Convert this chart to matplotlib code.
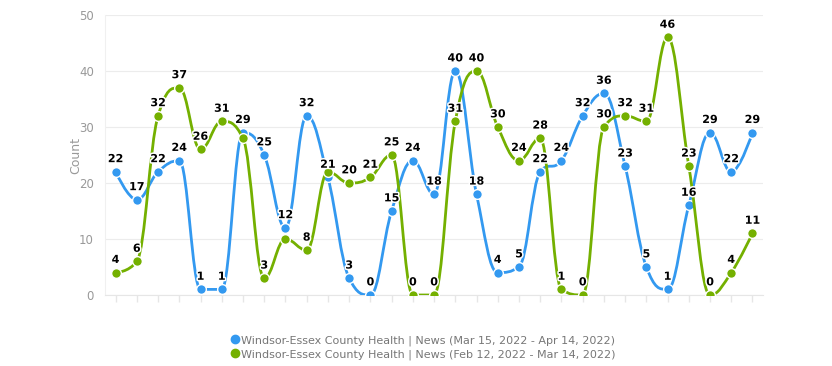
import matplotlib
matplotlib.use("Agg")
import matplotlib.pyplot as plt
import matplotlib.patheffects as pe
from matplotlib.path import Path
from matplotlib.patches import PathPatch
from matplotlib.lines import Line2D
import numpy as np

# data
series_names = [
    "Windsor-Essex County Health | News (Mar 15, 2022 - Apr 14, 2022)",
    "Windsor-Essex County Health | News (Feb 12, 2022 - Mar 14, 2022)",
]
blue_counts = [22, 17, 22, 24, 1, 1, 29, 25, 12, 32, 21, 3, 0, 15, 24, 18,
               40, 18, 4, 5, 22, 24, 32, 36, 23, 5, 1, 16, 29, 22, 29]
green_counts = [4, 6, 32, 37, 26, 31, 28, 3, 10, 8, 22, 20, 21, 25, 0, 0,
                31, 40, 30, 24, 28, 1, 0, 30, 32, 31, 46, 23, 0, 4, 11]
# labels that the original hid because they overlapped
blue_hidden = []
green_hidden = [6, 8, 10]
y_ticks = [0, 10, 20, 30, 40, 50]

BLUE = "#3399f0"
GREEN = "#74b000"
GRAY = "#999999"


def spline_path(xs, ys, smoothing=1.5):
    # same control point rule as a Highcharts spline series
    n = len(xs)
    denom = smoothing + 1
    right = [None] * n
    left = [None] * n
    for i in range(1, n - 1):
        px, py = xs[i], ys[i]
        lx, ly = xs[i - 1], ys[i - 1]
        nx, ny = xs[i + 1], ys[i + 1]
        lcx = (smoothing * px + lx) / denom
        lcy = (smoothing * py + ly) / denom
        rcx = (smoothing * px + nx) / denom
        rcy = (smoothing * py + ny) / denom
        corr = 0
        if rcx != lcx:
            corr = (rcy - lcy) * (rcx - px) / (rcx - lcx) + py - rcy
        lcy += corr
        rcy += corr
        if lcy > ly and lcy > py:
            lcy = max(ly, py)
            rcy = 2 * py - lcy
        elif lcy < ly and lcy < py:
            lcy = min(ly, py)
            rcy = 2 * py - lcy
        if rcy > ny and rcy > py:
            rcy = max(ny, py)
            lcy = 2 * py - rcy
        elif rcy < ny and rcy < py:
            rcy = min(ny, py)
            lcy = 2 * py - rcy
        left[i] = (lcx, lcy)
        right[i] = (rcx, rcy)
    verts = [(xs[0], ys[0])]
    codes = [Path.MOVETO]
    for i in range(1, n):
        c1 = right[i - 1] if right[i - 1] is not None else (xs[i - 1], ys[i - 1])
        c2 = left[i] if left[i] is not None else (xs[i], ys[i])
        verts += [c1, c2, (xs[i], ys[i])]
        codes += [Path.CURVE4] * 3
    return Path(verts, codes)


fig = plt.figure(figsize=(8.32, 3.66), dpi=100)
ax = fig.add_axes([0.1262, 0.194, 0.791, 0.765])

x = np.arange(len(blue_counts))
for vals, color, hidden, z in [(blue_counts, BLUE, blue_hidden, 3),
                               (green_counts, GREEN, green_hidden, 4)]:
    ax.add_patch(PathPatch(spline_path(list(x), vals), facecolor="none",
                           edgecolor=color, lw=2, zorder=z))
    ax.plot(x, vals, "o", color=color, ms=7, mec="white", mew=1, zorder=z + 0.5)
    for i, v in enumerate(vals):
        if i in hidden:
            continue
        ax.annotate(str(v), (i, v), xytext=(0, 5.5), textcoords="offset points",
                    ha="center", va="bottom", fontsize=8, fontweight="bold",
                    color="black", zorder=10,
                    path_effects=[pe.withStroke(linewidth=2.2, foreground="white")])

ax.set_xlim(-0.5, len(blue_counts) - 0.5)
ax.set_ylim(0, 50)
ax.set_yticks(y_ticks)
ax.set_xticks(x)
ax.set_xticklabels([])
ax.tick_params(axis="x", length=5, color="#e6e6e6", width=1)
ax.tick_params(axis="y", length=0, labelsize=8.5, labelcolor=GRAY, pad=8)
ax.grid(axis="y", color="#ececec", lw=0.8)
ax.set_axisbelow(True)
for s in ["top", "right"]:
    ax.spines[s].set_visible(False)
ax.spines["left"].set_color("#f0f0f0")
ax.spines["bottom"].set_color("#e6e6e6")
ax.set_ylabel("Count", fontsize=9, color=GRAY, labelpad=-2)

handles = [Line2D([], [], marker="o", ls="none", color=BLUE, ms=6),
           Line2D([], [], marker="o", ls="none", color=GREEN, ms=6)]
fig.legend(handles, series_names, loc="upper center", bbox_to_anchor=(0.508, 0.099),
           frameon=False, fontsize=8, labelcolor="#777777", handletextpad=0.15,
           labelspacing=0.3, borderpad=0, handlelength=0.8)

fig.savefig("out.png", dpi=100)
